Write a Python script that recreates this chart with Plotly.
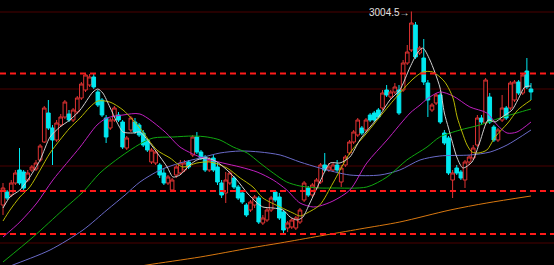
import plotly.graph_objects as go

# ---- candle data (price units) ----
idx = list(range(129))
open_ = [2811,2824,2821,2833,2846,2844,2836,2846,2847,2856,
 2874,2903,2888,2876,2891,2899,2902,2896,2904,2918,
 2926,2931,2939,2924,2916,2898,2888,2896,2901,2894,
 2868,2886,2894,2891,2883,2876,2854,2853,2851,2843,
 2833,2826,2841,2843,2846,2854,2861,2879,2864,2859,
 2846,2858,2849,2833,2823,2833,2838,2829,2823,2811,
 2806,2811,2818,2793,2796,2806,2824,2819,2804,2788,
 2789,2788,2794,2816,2828,2821,2828,2834,2851,2846,
 2846,2851,2834,2851,2863,2874,2881,2888,2886,2901,
 2903,2906,2908,2926,2919,2924,2926,2926,2953,2966,
 2991,2963,2958,2933,2906,2913,2921,2883,2878,2836,
 2848,2844,2836,2854,2858,2871,2898,2893,2919,2889,
 2876,2896,2908,2908,2916,2934,2923,2945,2927]
high_ = [2833,2826,2836,2846,2868,2846,2846,2851,2856,2872,
 2910,2916,2891,2896,2902,2916,2906,2908,2920,2934,
 2943,2942,2942,2926,2918,2901,2898,2910,2904,2896,
 2880,2900,2898,2893,2886,2878,2868,2866,2853,2848,
 2841,2838,2851,2856,2856,2856,2881,2884,2866,2861,
 2859,2861,2853,2836,2844,2845,2840,2831,2826,2813,
 2816,2821,2820,2801,2808,2820,2826,2823,2806,2795,
 2798,2800,2808,2835,2830,2833,2838,2853,2863,2853,
 2853,2856,2851,2861,2876,2886,2898,2890,2898,2903,
 2905,2908,2926,2931,2926,2933,2931,2956,2971,3004.5,
 2994,2970,2977,2936,2913,2923,2923,2886,2880,2846,
 2851,2846,2856,2861,2871,2901,2901,2938,2923,2891,
 2888,2921,2910,2935,2936,2936,2943,2958,2933]
low_ = [2801,2816,2819,2831,2831,2826,2834,2844,2845,2854,
 2873,2886,2851,2874,2889,2897,2894,2894,2902,2916,
 2924,2929,2927,2909,2899,2873,2886,2894,2894,2867,
 2866,2884,2882,2879,2869,2864,2852,2851,2838,2831,
 2831,2824,2838,2841,2844,2847,2859,2862,2856,2844,
 2844,2844,2831,2818,2813,2831,2827,2816,2812,2799,
 2804,2808,2792,2791,2794,2804,2814,2796,2783,2784,
 2787,2786,2792,2814,2819,2819,2826,2832,2844,2844,
 2844,2844,2829,2849,2861,2872,2879,2881,2884,2894,
 2894,2897,2906,2919,2917,2922,2901,2924,2951,2964,
 2957,2961,2931,2899,2904,2911,2892,2871,2841,2818,
 2841,2836,2828,2851,2856,2869,2891,2891,2892,2874,
 2874,2894,2896,2906,2914,2921,2921,2927,2916]
close_ = [2828,2818,2833,2843,2833,2828,2843,2849,2853,2870,
 2908,2888,2876,2893,2899,2914,2896,2906,2918,2932,
 2941,2939,2929,2911,2901,2879,2896,2908,2896,2869,
 2878,2898,2884,2881,2871,2866,2866,2864,2841,2833,
 2839,2836,2849,2853,2853,2849,2879,2864,2858,2846,
 2856,2846,2834,2821,2836,2843,2829,2818,2814,2801,
 2814,2819,2794,2798,2806,2818,2816,2798,2786,2793,
 2796,2798,2806,2833,2821,2831,2836,2851,2846,2849,
 2851,2846,2848,2859,2874,2884,2896,2883,2896,2896,
 2896,2899,2923,2921,2924,2929,2903,2953,2964,2993,
 2959,2968,2934,2916,2911,2921,2894,2873,2843,2843,
 2843,2838,2854,2859,2868,2898,2894,2936,2894,2876,
 2886,2908,2898,2933,2934,2923,2941,2929,2924]

# ---- moving averages (read at sample candles) ----
ma5_x = [0,1.7,4.1,6.5,9.0,11.4,13.8,16.2,18.7,21.8,23.0,24.2,25.9,27.6,29.1,31.5,33.2,35.6,38.1,39.8,
         41.2,42.9,45.3,47.0,49.5,51.9,54.3,56.7,59.2,61.6,63.0,65.5,67.9,69.6,71.3,72.7,74.4,76.8,79.3,81.7,
         84.1,86.5,89.0,91.4,93.8,96.2,98.7,100.6,101.8,103.5,105.9,107.0,108.0,110.1,111.5,113.7,115.6,117.6,119.3,121.0,
         123.4,124.8,126.5,128]
ma5_y = [2808,2819,2826,2839,2856,2879,2889,2896,2906,2924,2927,2923,2909,2894,2884,2883,2884,2873,2859,2849,
         2839,2841,2851,2856,2858,2854,2846,2836,2823,2813,2809,2808,2806,2799,2796,2799,2813,2834,2853,2853,
         2859,2876,2889,2901,2916,2926,2949,2964,2968,2956,2929,2903,2888,2858,2848,2854,2874,2896,2894,2899,
         2906,2916,2929,2930]
ma10_x = [0,1.7,4.1,6.5,9.0,11.4,13.8,16.2,18.7,21.1,23.0,25.9,29.1,31.5,33.2,37.3,40.5,43.6,47.0,50.2,
          54.3,57.5,60.6,63.0,67.2,70.3,72.0,73.7,76.8,80.0,84.1,88.2,92.1,96.2,99.4,101.8,104.2,106.7,107.6,109.1,
          110.1,111.3,112.5,113.7,115.2,117.3,119.3,122.4,124.8,128]
ma10_y = [2795,2806,2819,2829,2846,2863,2876,2888,2898,2909,2915,2914,2906,2896,2888,2866,2858,2849,2853,2854,
          2848,2838,2829,2818,2809,2803,2800,2803,2811,2833,2863,2883,2903,2923,2937,2944,2944,2936,2931,2918,
          2899,2884,2871,2864,2863,2866,2879,2893,2906,2916]
ma20_x = [0,4.1,8.2,12.1,18.7,22.8,25.2,29.1,33.2,39.3,42.9,47.8,53.3,57.5,61.6,65.5,68.8,72.0,75.2,76.8,
          80.0,84.1,88.2,93.1,98.7,101.1,102.8,105.9,109.1,113.2,117.3,119.8,122.2,124.6,128]
ma20_y = [2779,2794,2813,2836,2869,2891,2898,2901,2902,2884,2869,2859,2853,2849,2844,2836,2826,2813,2809,2810,
          2815,2826,2853,2876,2903,2911,2917,2924,2920,2909,2903,2891,2883,2884,2894]
ma60_x = [0,7.3,14.5,19.4,23.5,28.4,33.2,36.4,41.2,46.1,49.5,52.6,55.8,59.2,62.3,65.5,68.8,72.0,76.8,80.0,
          88.2,93.1,97.9,102.8,105.9,110.8,115.6,120.5,124.6,128]
ma60_y = [2754,2779,2806,2824,2843,2859,2872,2878,2879,2880,2879,2876,2869,2863,2853,2843,2834,2830,2828,2828,
          2829,2839,2856,2869,2879,2886,2891,2898,2903,2907]
ma120_x = [0,2.4,11.4,19.4,25.2,29.6,33.2,38.1,42.9,47.8,52.6,57.5,62.3,67.2,72.0,76.8,84.1,91.4,96.2,101.1,
           105.9,113.2,118.1,122.2,128]
ma120_y = [2747,2751,2766,2786,2806,2821,2834,2846,2853,2858,2863,2865,2864,2861,2854,2848,2841,2841,2846,2856,
           2860,2861,2864,2871,2886]
ma250_x = [28,34.9,47.8,59.9,67.2,76.8,86.5,96.2,108.4,117.3,128]
ma250_y = [2746,2751,2759,2768,2773,2780,2787,2794,2806,2813,2820]

grid_levels = [3004, 2927, 2850, 2773]
dash_levels = [2942.5, 2825, 2782]
peak_label = "3004.5→"

fig = go.Figure()

ma_specs = [
    (ma250_x, ma250_y, "#d87810"),
    (ma120_x, ma120_y, "#6a6ac8"),
    (ma60_x, ma60_y, "#10a810"),
    (ma20_x, ma20_y, "#c020c0"),
    (ma10_x, ma10_y, "#b8b800"),
]
for xs, ys, col in ma_specs:
    fig.add_trace(go.Scatter(x=xs, y=ys, mode="lines",
                             line=dict(color=col, width=1, shape="spline", smoothing=0.8),
                             hoverinfo="skip"))

fig.add_trace(go.Candlestick(
    x=idx, open=open_, high=high_, low=low_, close=close_,
    increasing=dict(line=dict(color="#e03232", width=1), fillcolor="#000000"),
    decreasing=dict(line=dict(color="#00e8f0", width=1), fillcolor="#00e8f0"),
    whiskerwidth=0, hoverinfo="skip"))

fig.add_trace(go.Scatter(x=ma5_x, y=ma5_y, mode="lines",
                         line=dict(color="#d0d0d0", width=1, shape="spline", smoothing=0.7),
                         hoverinfo="skip"))

shapes = []
for g in grid_levels:
    shapes.append(dict(type="line", xref="paper", x0=0, x1=1, yref="y", y0=g, y1=g,
                       line=dict(color="#4a0000", width=1), layer="below"))
for d in dash_levels:
    shapes.append(dict(type="line", xref="paper", x0=0, x1=1, yref="y", y0=d, y1=d,
                       line=dict(color="#ff1a1a", width=2, dash="6px,4px"), layer="above"))

fig.update_layout(
    width=554, height=265,
    margin=dict(l=0, r=0, t=0, b=0),
    paper_bgcolor="#000000", plot_bgcolor="#000000",
    showlegend=False, hovermode=False,
    boxgap=0.12, boxgroupgap=0,
    shapes=shapes,
    xaxis=dict(range=[-0.727, 133.58], visible=False, rangeslider=dict(visible=False),
               showgrid=False, zeroline=False),
    yaxis=dict(range=[2751, 3016], visible=False, showgrid=False, zeroline=False),
    annotations=[dict(x=99, y=3004.5, xref="x", yref="y", text=peak_label, showarrow=False,
                      xanchor="right", yanchor="middle", xshift=1, yshift=-1,
                      font=dict(family="Liberation Sans, Arial", size=10, color="#e0e0e0"))],
)

fig.write_html("out.html")
